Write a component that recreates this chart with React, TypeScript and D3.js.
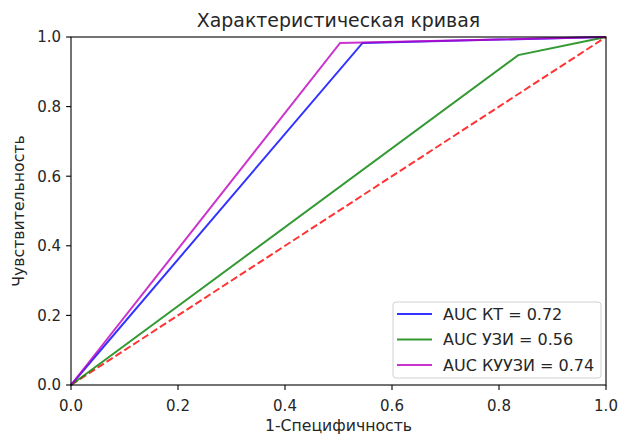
import React from "react";
import { scaleLinear, line, range } from "d3";

const width = 620;
const height = 436;
const margin = { left: 71, right: 14, top: 37, bottom: 51 };
const innerW = width - margin.left - margin.right;
const innerH = height - margin.top - margin.bottom;

const ticks = range(0, 6).map((i) => i / 5);
const tickLabels = ["0.0", "0.2", "0.4", "0.6", "0.8", "1.0"];

const fprKT = [0, 0.545, 1];
const tprKT = [0, 0.983, 1];
const fprUZI = [0, 0.836, 1];
const tprUZI = [0, 0.948, 1];
const fprKUUZI = [0, 0.503, 1];
const tprKUUZI = [0, 0.983, 1];
const diagonal = [0, 1];

const series = [
  { label: "AUC КТ = 0.72", color: "#0000ff", fpr: fprKT, tpr: tprKT },
  { label: "AUC УЗИ = 0.56", color: "#008000", fpr: fprUZI, tpr: tprUZI },
  { label: "AUC КУУЗИ = 0.74", color: "#bf00bf", fpr: fprKUUZI, tpr: tprKUUZI },
];

const x = scaleLinear().domain([0, 1]).range([0, innerW]);
const y = scaleLinear().domain([0, 1]).range([innerH, 0]);

const path = line<[number, number]>()
  .x((d) => x(d[0]))
  .y((d) => y(d[1]));

const font = "'DejaVu Sans', sans-serif";
const textColor = "#262626";

export default function App() {
  return (
    <svg width={width} height={height} style={{ display: "block", position: "absolute", left: 0, top: 0 }}>
      <rect width={width} height={height} fill="#fff" />
      <text x={margin.left + innerW / 2} y={27} textAnchor="middle" fontFamily={font} fontSize={18.9} fill={textColor}>
        Характеристическая кривая
      </text>
      <g transform={`translate(${margin.left}, ${margin.top})`}>
        <path d={path(diagonal.map((d) => [d, d] as [number, number])) || ""} fill="none" stroke="#ff0000" strokeOpacity={0.8} strokeWidth={2} strokeDasharray="7.4,3.2" />
        {series.map((s) => (
          <path
            key={s.label}
            d={path(s.fpr.map((f, i) => [f, s.tpr[i]] as [number, number])) || ""}
            fill="none"
            stroke={s.color}
            strokeOpacity={0.8}
            strokeWidth={2}
          />
        ))}
        <rect x={0} y={0} width={innerW} height={innerH} fill="none" stroke="#000" strokeWidth={1.1} />
        {ticks.map((t, i) => (
          <g key={`x${i}`} transform={`translate(${x(t)}, ${innerH})`}>
            <line y1={0} y2={4.9} stroke="#000" strokeWidth={1.1} />
            <text y={26} textAnchor="middle" fontFamily={font} fontSize={15} fill={textColor}>
              {tickLabels[i]}
            </text>
          </g>
        ))}
        {ticks.map((t, i) => (
          <g key={`y${i}`} transform={`translate(0, ${y(t)})`}>
            <line x1={0} x2={-4.9} stroke="#000" strokeWidth={1.1} />
            <text x={-10} dy="0.36em" textAnchor="end" fontFamily={font} fontSize={15} fill={textColor}>
              {tickLabels[i]}
            </text>
          </g>
        ))}
        <text x={innerW / 2} y={innerH + 46} textAnchor="middle" fontFamily={font} fontSize={15.7} fill={textColor}>
          1-Специфичность
        </text>
        <text transform={`translate(${-47}, ${innerH / 2}) rotate(-90)`} textAnchor="middle" fontFamily={font} fontSize={15.7} fill={textColor}>
          Чувствительность
        </text>
        <g transform={`translate(${322}, ${265})`}>
          <rect x={0} y={0} width={208} height={76} rx={3} fill="#fff" fillOpacity={0.8} stroke="#d0d0d0" strokeWidth={1} />
          {series.map((s, i) => (
            <g key={s.label} transform={`translate(0, ${12 + i * 25.5})`}>
              <line x1={4} x2={39} y1={0} y2={0} stroke={s.color} strokeOpacity={0.8} strokeWidth={2} />
              <text x={50} dy="0.36em" fontFamily={font} fontSize={16} fill={textColor}>
                {s.label}
              </text>
            </g>
          ))}
        </g>
      </g>
    </svg>
  );
}
